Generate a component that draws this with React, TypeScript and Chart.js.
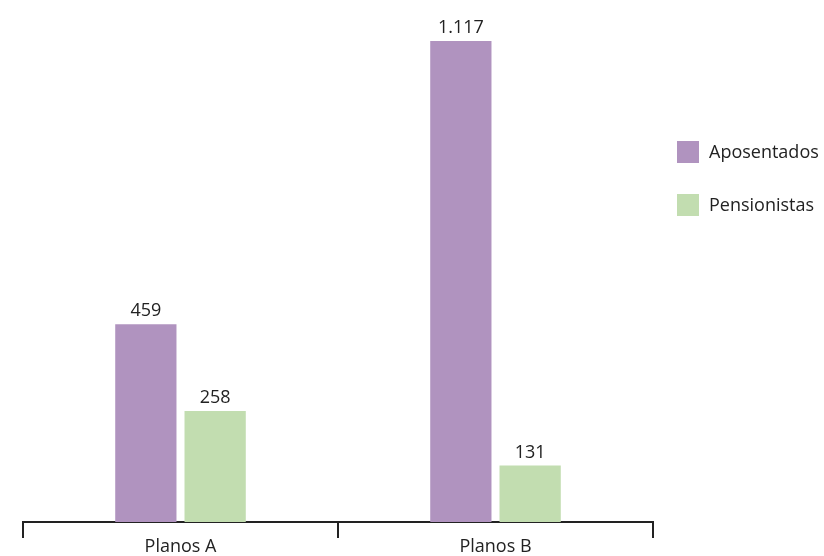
import React, { useEffect, useRef } from "react";
import { Chart, registerables } from "chart.js";

Chart.register(...registerables);

const categories = ["Planos A", "Planos B"];
const seriesNames = ["Aposentados", "Pensionistas"];
const aposentados = [459, 1117];
const pensionistas = [258, 131];
const colors = ["#B093BF", "#C2DDB0"];

const FONT = "'Open Sans', sans-serif";
const FS = 18;

const labelsPlugin = {
  id: "valueLabels",
  afterDatasetsDraw(chart: any) {
    const ctx = chart.ctx;
    ctx.save();
    ctx.font = `${FS}px ${FONT}`;
    ctx.fillStyle = "#222";
    ctx.textAlign = "center";
    ctx.textBaseline = "bottom";
    chart.data.datasets.forEach((ds: any, i: number) => {
      const meta = chart.getDatasetMeta(i);
      meta.data.forEach((bar: any, j: number) => {
        const v = ds.data[j] as number;
        ctx.fillText(v.toLocaleString("pt-BR"), bar.x, bar.y - 4);
      });
    });
    ctx.restore();
  },
};

const legendPlugin = {
  id: "sideLegend",
  afterDraw(chart: any) {
    const ctx = chart.ctx;
    const area = chart.chartArea;
    ctx.save();
    ctx.font = `${FS}px ${FONT}`;
    ctx.textBaseline = "middle";
    ctx.textAlign = "left";
    chart.data.datasets.forEach((ds: any, i: number) => {
      const x = area.right + 24;
      const y = 141 + i * 53;
      ctx.fillStyle = ds.backgroundColor;
      ctx.fillRect(x, y, 22, 22);
      ctx.fillStyle = "#222";
      ctx.fillText(ds.label, x + 32, y + 12);
    });
    ctx.restore();
  },
};

export default function App() {
  const ref = useRef<HTMLCanvasElement>(null);
  useEffect(() => {
    if (!ref.current) return;
    const chart = new Chart(ref.current, {
      type: "bar",
      data: {
        labels: categories,
        datasets: [
          { label: seriesNames[0], data: aposentados, backgroundColor: colors[0] },
          { label: seriesNames[1], data: pensionistas, backgroundColor: colors[1] },
        ],
      },
      options: {
        animation: false,
        responsive: false,
        maintainAspectRatio: false,
        layout: { padding: { left: 23, right: 171, top: 41, bottom: 0 } },
        datasets: { bar: { categoryPercentage: 0.44, barPercentage: 0.884 } },
        plugins: { legend: { display: false }, tooltip: { enabled: false } },
        scales: {
          x: {
            offset: true,
            grid: {
              offset: true,
              drawOnChartArea: false,
              drawTicks: true,
              tickLength: 16,
              color: "#222",
              lineWidth: 2,
            },
            border: { display: true, color: "#222", width: 2 },
            ticks: { color: "#222", font: { family: FONT, size: FS, lineHeight: 1.0 }, padding: 0 },
          },
          y: { display: false, min: 0, max: 1117 },
        },
      },
      plugins: [labelsPlugin, legendPlugin],
    });
    return () => chart.destroy();
  }, []);
  return (
    <div style={{ position: "fixed", left: 0, top: 0, width: 824, height: 556, background: "#fff" }}>
      <canvas ref={ref} width={824} height={556} />
    </div>
  );
}
